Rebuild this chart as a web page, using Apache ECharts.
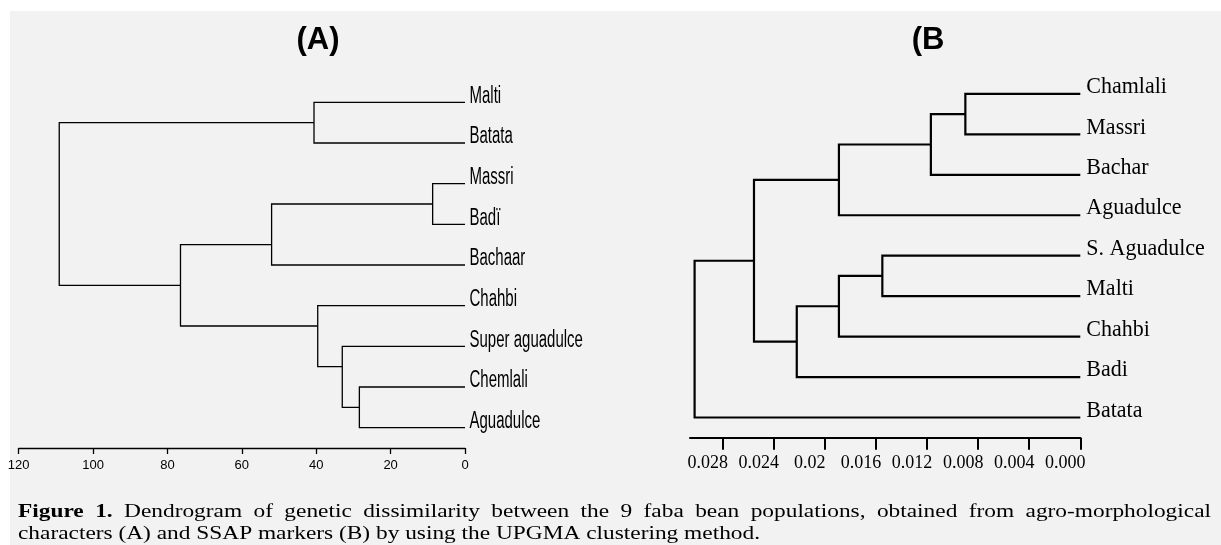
<!DOCTYPE html>
<html><head><meta charset="utf-8">
<script src="https://cdn.jsdelivr.net/npm/echarts@6/dist/echarts.min.js"></script>
<style>html,body{margin:0;padding:0;background:#fff}#c{width:1221px;height:545px}</style>
</head><body><div id="c"></div>
<script>
// ---------- Panel A (agro-morphological characters) ----------
const leavesA = ['Malti','Batata','Massri','Badï','Bachaar','Chahbi','Super aguadulce','Chemlali','Aguadulce'];
const mergePairsA = [[2,3],[7,8],[6,10],[5,11],[0,1],[9,4],[14,12],[13,15]];
const mergeHeightsA = [8.7,28.4,33.0,39.6,40.6,52.0,76.5,109.1];
const ticksA = [0,20,40,60,80,100,120];
const tickLabelsA = ['0','20','40','60','80','100','120'];
// ---------- Panel B (SSAP markers) ----------
const leavesB = ['Chamlali','Massri','Bachar','Aguadulce','S. Aguadulce','Malti','Chahbi','Badi','Batata'];
const mergePairsB = [[0,1],[9,2],[10,3],[4,5],[12,6],[13,7],[11,14],[15,8]];
const mergeHeightsB = [0.0090,0.0117,0.0189,0.0155,0.0189,0.0222,0.02555,0.0302];
const ticksB = [0,0.004,0.008,0.012,0.016,0.020,0.024,0.028];
const tickLabelsB = ['0.000','0.004','0.008','0.012','0.016','0.02','0.024','0.028'];
// ---------- Texts ----------
const titleA = '(A)';
const titleB = '(B';
const captionBold = 'Figure 1.';
const captionLine1 = 'Dendrogram of genetic dissimilarity between the 9 faba bean populations, obtained from agro-morphological';
const captionLine2 = 'characters (A) and SSAP markers (B) by using the UPGMA clustering method.';

function layoutTree(leaves, pairs, heights, mode){
  const n = leaves.length;
  const nodes = leaves.map((name,i)=>({h:0, y:i, first:i, last:i}));
  pairs.forEach((p,k)=>{
    const a = nodes[p[0]], b = nodes[p[1]];
    const up = a.first < b.first ? a : b, lo = (up===a) ? b : a;
    const y = mode==='gap' ? (up.last + lo.first)/2 : (a.y + b.y)/2;
    nodes.push({h:heights[k], y:y, first:Math.min(a.first,b.first), last:Math.max(a.last,b.last)});
  });
  return pairs.map((p,k)=>{const a=nodes[p[0]], b=nodes[p[1]], m=nodes[n+k]; return [m.h, m.y, a.h, a.y, b.h, b.y];});
}
const linksA = layoutTree(leavesA, mergePairsA, mergeHeightsA, 'gap');
const linksB = layoutTree(leavesB, mergePairsB, mergeHeightsB, 'mid');

function linkRender(width){
  return function(params, api){
    const h=api.value(0), a0=api.value(2), ay=api.value(3), b0=api.value(4), by=api.value(5);
    const pts=[api.coord([a0,ay]), api.coord([h,ay]), api.coord([h,by]), api.coord([b0,by])];
    return {type:'polyline', shape:{points:pts}, style:{stroke:'#000', lineWidth:width, fill:null}};
  };
}
function labelRender(names, font, dx, dy, sy){
  return function(params, api){
    const p = api.coord([0, api.value(1)]);
    const x = p[0]+dx, y = p[1]+dy;
    return {type:'text', x:x, y:y, scaleY:sy, originX:0, originY:0,
      style:{text:names[params.dataIndex], font:font, fill:'#000', align:'left', verticalAlign:'middle'}};
  };
}

// caption: slightly widened glyphs, first line justified to full width
const capFont = "18px 'Liberation Serif', 'Times New Roman', serif";
const capFontB = "bold 18px 'Liberation Serif', 'Times New Roman', serif";
const ctx = document.createElement('canvas').getContext('2d');
function measure(t, f){ ctx.font=f; return ctx.measureText(t).width; }
const capLeft = 18, capRight = 1211, line2End = 760;
const capScale = (line2End-capLeft)/measure(captionLine2, capFont);
const capWords = captionBold.split(' ').map(t=>({t:t,f:capFontB})).concat(captionLine1.split(' ').map(t=>({t:t,f:capFont})));
let wordsW = 0; capWords.forEach(w=>{w.w=measure(w.t,w.f)*capScale; wordsW+=w.w;});
const capGap = (capRight-capLeft-wordsW)/(capWords.length-1);
const captionEls = [];
let cx = capLeft;
capWords.forEach(w=>{
  captionEls.push({type:'text', x:cx, y:512, scaleX:capScale, originX:0, originY:0,
    style:{text:w.t, font:w.f, fill:'#000', verticalAlign:'middle'}});
  cx += w.w + capGap;
});
captionEls.push({type:'text', x:capLeft, y:534, scaleX:capScale, originX:0, originY:0,
  style:{text:captionLine2, font:capFont, fill:'#000', verticalAlign:'middle'}});

const chart = echarts.init(document.getElementById('c'), null, {renderer:'canvas'});
const sansA = "'Liberation Sans', Arial, sans-serif";
const serifB = "'Liberation Serif', 'Times New Roman', serif";
chart.setOption({
  backgroundColor:'#ffffff',
  animation:false,
  graphic:[
    {type:'rect', z:-100, silent:true, shape:{x:10, y:11, width:1211, height:534}, style:{fill:'#f2f2f2'}},
    {type:'text', x:318, y:40, style:{text:titleA, font:"bold 31px 'Liberation Sans', Arial, sans-serif", fill:'#000', align:'center', verticalAlign:'middle'}},
    {type:'text', x:928, y:40, style:{text:titleB, font:"bold 31px 'Liberation Sans', Arial, sans-serif", fill:'#000', align:'center', verticalAlign:'middle'}}
  ].concat(captionEls),
  grid:[
    {left:18.7, top:82, width:446.3, height:366},
    {left:690, top:73.7, width:390.3, height:364}
  ],
  xAxis:[
    {gridIndex:0, type:'value', position:'bottom', min:0, max:120, interval:20, inverse:true,
     axisLine:{onZero:false, lineStyle:{color:'#000', width:1.3}},
     axisTick:{length:6, lineStyle:{color:'#000', width:1.3}},
     axisLabel:{color:'#000', fontFamily:sansA, fontSize:13, margin:11, formatter:v=>tickLabelsA[ticksA.indexOf(v)]},
     splitLine:{show:false}},
    {gridIndex:1, type:'value', position:'bottom', min:0, max:0.03056, interval:0.004, inverse:true,
     axisLine:{onZero:false, lineStyle:{color:'#000', width:2}},
     axisTick:{length:12, customValues:ticksB, lineStyle:{color:'#000', width:2}},
     axisLabel:{color:'#000', fontFamily:serifB, fontSize:18, margin:17, customValues:ticksB, padding:[0,30,0,0],
       formatter:v=>{const i=ticksB.findIndex(t=>Math.abs(t-v)<1e-9); return i<0?'':tickLabelsB[i];}},
     splitLine:{show:false}}
  ],
  yAxis:[
    {gridIndex:0, type:'value', min:-0.5, max:8.5, inverse:true, show:false},
    {gridIndex:1, type:'value', min:-0.5, max:8.5, inverse:true, show:false}
  ],
  series:[
    {type:'custom', xAxisIndex:0, yAxisIndex:0, data:linksA, encode:{x:[0,2,4], y:[1,3,5]}, renderItem:linkRender(1.3), clip:false},
    {type:'custom', xAxisIndex:0, yAxisIndex:0, data:leavesA.map((n,i)=>[0,i]), encode:{x:0,y:1},
     renderItem:labelRender(leavesA, "15px 'Liberation Sans', Arial, sans-serif", 4.5, -6, 1.55), clip:false},
    {type:'custom', xAxisIndex:1, yAxisIndex:1, data:linksB, encode:{x:[0,2,4], y:[1,3,5]}, renderItem:linkRender(2.2), clip:false},
    {type:'custom', xAxisIndex:1, yAxisIndex:1, data:leavesB.map((n,i)=>[0,i]), encode:{x:0,y:1},
     renderItem:labelRender(leavesB, "22px 'Liberation Serif', 'Times New Roman', serif", 6, -7, 1.08), clip:false}
  ]
});
</script></body></html>
